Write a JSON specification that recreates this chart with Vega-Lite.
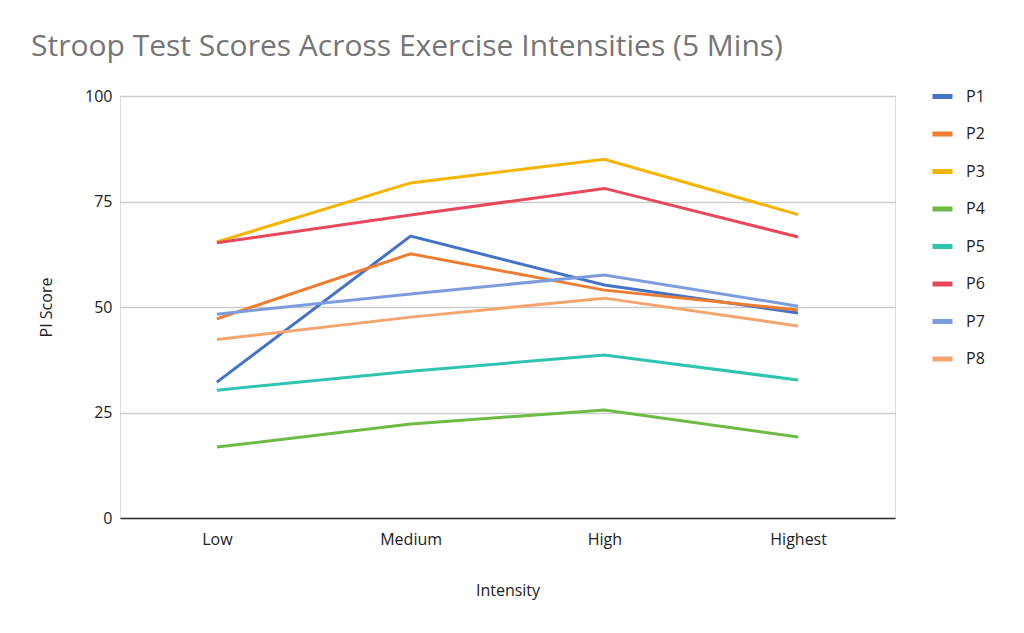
{
  "$schema": "https://vega.github.io/schema/vega-lite/v6.json",
  "description": "Stroop test scores by exercise intensity",
  "autosize": {"type": "none"},
  "padding": {"left": 120, "top": 96, "right": 129, "bottom": 115},
  "width": 775,
  "height": 422,
  "background": "white",
  "title": {
    "text": "Stroop Test Scores Across Exercise Intensities (5 Mins)",
    "anchor": "start",
    "frame": "group",
    "dx": -89,
    "offset": 22,
    "font": "Open Sans",
    "fontSize": 30,
    "fontWeight": "normal",
    "color": "#757575"
  },
  "data": {
    "values": [
      {"participant": "P1", "intensity": "Low", "score": 32.2},
      {"participant": "P1", "intensity": "Medium", "score": 66.8},
      {"participant": "P1", "intensity": "High", "score": 55.2},
      {"participant": "P1", "intensity": "Highest", "score": 48.6},
      {"participant": "P2", "intensity": "Low", "score": 47.2},
      {"participant": "P2", "intensity": "Medium", "score": 62.6},
      {"participant": "P2", "intensity": "High", "score": 54.0},
      {"participant": "P2", "intensity": "Highest", "score": 49.3},
      {"participant": "P3", "intensity": "Low", "score": 65.4},
      {"participant": "P3", "intensity": "Medium", "score": 79.4},
      {"participant": "P3", "intensity": "High", "score": 85.0},
      {"participant": "P3", "intensity": "Highest", "score": 71.9},
      {"participant": "P4", "intensity": "Low", "score": 16.8},
      {"participant": "P4", "intensity": "Medium", "score": 22.3},
      {"participant": "P4", "intensity": "High", "score": 25.6},
      {"participant": "P4", "intensity": "Highest", "score": 19.2},
      {"participant": "P5", "intensity": "Low", "score": 30.3},
      {"participant": "P5", "intensity": "Medium", "score": 34.8},
      {"participant": "P5", "intensity": "High", "score": 38.6},
      {"participant": "P5", "intensity": "Highest", "score": 32.7},
      {"participant": "P6", "intensity": "Low", "score": 65.2},
      {"participant": "P6", "intensity": "Medium", "score": 71.8},
      {"participant": "P6", "intensity": "High", "score": 78.1},
      {"participant": "P6", "intensity": "Highest", "score": 66.6},
      {"participant": "P7", "intensity": "Low", "score": 48.3},
      {"participant": "P7", "intensity": "Medium", "score": 53.1},
      {"participant": "P7", "intensity": "High", "score": 57.6},
      {"participant": "P7", "intensity": "Highest", "score": 50.2},
      {"participant": "P8", "intensity": "Low", "score": 42.3},
      {"participant": "P8", "intensity": "Medium", "score": 47.6},
      {"participant": "P8", "intensity": "High", "score": 52.1},
      {"participant": "P8", "intensity": "Highest", "score": 45.5}
    ]
  },
  "mark": {"type": "line", "strokeWidth": 3},
  "encoding": {
    "x": {
      "field": "intensity",
      "type": "ordinal",
      "sort": ["Low", "Medium", "High", "Highest"],
      "scale": {"type": "point", "padding": 0.5},
      "title": "Intensity",
      "axis": {
        "labelAngle": 0,
        "ticks": false,
        "grid": false,
        "domainColor": "#333333",
        "domainWidth": 1.5,
        "labelPadding": 13,
        "labelFont": "Open Sans",
        "labelFontSize": 16,
        "labelColor": "#222222",
        "titleFont": "Open Sans",
        "titleFontSize": 16,
        "titleFontWeight": "normal",
        "titleColor": "#222222",
        "titlePadding": 35
      }
    },
    "y": {
      "field": "score",
      "type": "quantitative",
      "scale": {"domain": [0, 100]},
      "title": "PI Score",
      "axis": {
        "values": [0, 25, 50, 75, 100],
        "domain": false,
        "ticks": false,
        "gridColor": "#cccccc",
        "gridWidth": 1.5,
        "labelPadding": 8,
        "labelFont": "Open Sans",
        "labelFontSize": 16,
        "labelColor": "#222222",
        "titleFont": "Open Sans",
        "titleFontSize": 16,
        "titleFontWeight": "normal",
        "titleColor": "#222222",
        "titlePadding": 30
      }
    },
    "color": {
      "field": "participant",
      "type": "nominal",
      "title": null,
      "scale": {
        "domain": ["P1", "P2", "P3", "P4", "P5", "P6", "P7", "P8"],
        "range": ["#4472C4", "#ED7D31", "#F4B400", "#6DBB45", "#2EC4B0", "#E8485E", "#7C9CDE", "#F4A56F"]
      },
      "legend": {
        "orient": "none",
        "legendX": 810,
        "legendY": -12,
        "symbolType": "stroke",
        "symbolStrokeWidth": 5,
        "symbolSize": 400,
        "labelFont": "Open Sans",
        "labelFontSize": 16,
        "labelColor": "#222222",
        "labelOffset": 11,
        "rowPadding": 14.5
      }
    }
  }
}
